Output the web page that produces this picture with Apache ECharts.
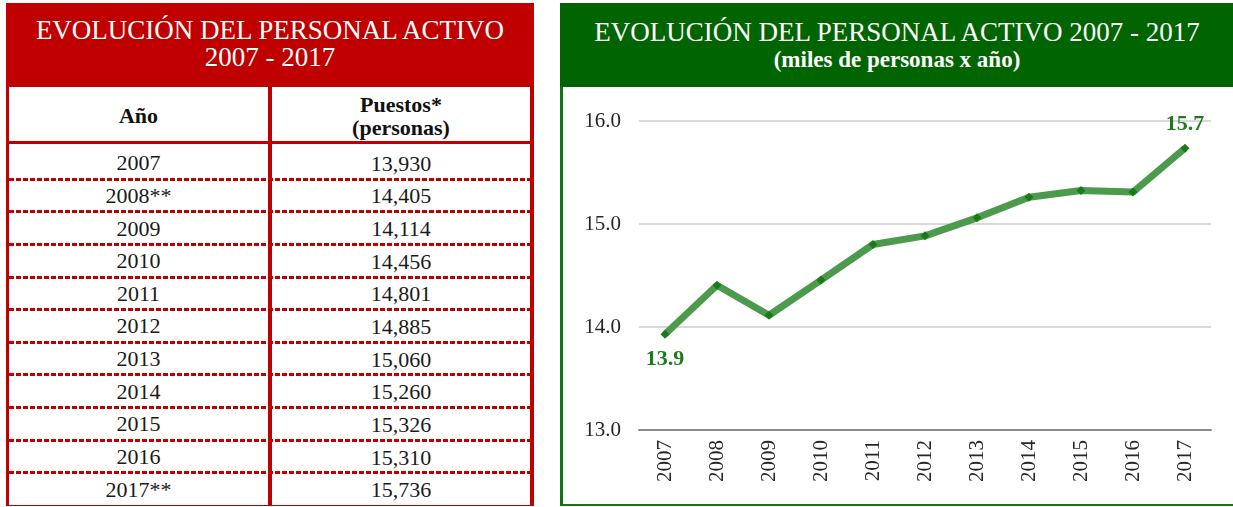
<!DOCTYPE html>
<html>
<head>
<meta charset="utf-8">
<title>Evolución del personal activo 2007 - 2017</title>
<script src="https://cdn.jsdelivr.net/npm/echarts@6/dist/echarts.min.js"></script>
<style>
  body { margin: 0; width: 1233px; height: 507px; background: #fff; overflow: hidden; position: relative; font-family: 'Liberation Serif', serif; }
  .abs { position: absolute; box-sizing: border-box; }
  #red-header { left: 6px; top: 3px; width: 528px; height: 84px; background: #c00000; color: #fff; text-align: center; font-size: 27px; line-height: 27px; padding-top: 14px; }
  #table-box { left: 6px; top: 87px; width: 528px; height: 419px; border-left: 3px solid #c00000; border-right: 4px solid #c00000; border-bottom: 1px solid #c00000; }
  #col-divider { left: 268px; top: 87px; width: 4px; height: 419px; background: #c00000; }
  #head-row { left: 9px; top: 87px; width: 521px; height: 57px; padding-top: 4px; border-bottom: 3px solid #c00000; font-weight: bold; font-size: 22px; color: #111; }
  #head-row .cell { top: 4px; height: 50px; }
  .cell { position: absolute; top: 0; height: 100%; display: flex; align-items: center; justify-content: center; text-align: center; }
  .c1 { left: 0; width: 259px; }
  .c2 { left: 263px; width: 258px; line-height: 23px; }
  .row { position: absolute; left: 9px; width: 521px; font-size: 22px; color: #1a1a1a; }
  .dash { position: absolute; left: 0; right: 0; bottom: -1px; height: 3px;
          background: repeating-linear-gradient(to right, #c00000 0 5px, transparent 5px 7px); }
  #green-header { left: 560px; top: 3px; width: 680px; height: 84px; background: #006400; color: #fff; text-align: center; }
  #green-title { font-size: 27px; line-height: 28px; padding-top: 15px; padding-right: 6px; }
  #green-sub { font-size: 23px; font-weight: bold; line-height: 28px; padding-right: 6px; }
  #green-box { left: 560px; top: 87px; width: 680px; height: 419px; border-left: 3px solid #127512; border-bottom: 2px solid #127512; }
  #chart { left: 563px; top: 87px; width: 670px; height: 417px; }
</style>
</head>
<body>
<div class="abs" id="red-header">EVOLUCIÓN DEL PERSONAL ACTIVO<br>2007 - 2017</div>
<div class="abs" id="table-box"></div>
<div class="abs" id="head-row">
  <div class="cell c1">Año</div>
  <div class="cell c2">Puestos*<br>(personas)</div>
</div>
<div id="rows"></div>
<div class="abs" id="col-divider"></div>

<div class="abs" id="green-header">
  <div id="green-title">EVOLUCIÓN DEL PERSONAL ACTIVO 2007 - 2017</div>
  <div id="green-sub">(miles de personas x año)</div>
</div>
<div class="abs" id="green-box"></div>
<div class="abs" id="chart"></div>

<script>
// Table data (as printed)
const yearLabels = ['2007', '2008**', '2009', '2010', '2011', '2012', '2013', '2014', '2015', '2016', '2017**'];
const puestos = [13930, 14405, 14114, 14456, 14801, 14885, 15060, 15260, 15326, 15310, 15736];

// Chart data
const years = ['2007', '2008', '2009', '2010', '2011', '2012', '2013', '2014', '2015', '2016', '2017'];
const yTicks = [13, 14, 15, 16];

// Build the table rows
const rowsEl = document.getElementById('rows');
const rowTop = 147;
const rowH = (506 - rowTop) / yearLabels.length;
yearLabels.forEach(function(label, i) {
    const row = document.createElement('div');
    row.className = 'row';
    row.style.top = (rowTop + i * rowH) + 'px';
    row.style.height = rowH + 'px';
    row.innerHTML =
        '<div class="cell c1">' + label + '</div>' +
        '<div class="cell c2">' + puestos[i].toLocaleString('en-US') + '</div>' +
        (i < yearLabels.length - 1 ? '<div class="dash"></div>' : '');
    rowsEl.appendChild(row);
});

// Line chart (miles de personas)
const chart = echarts.init(document.getElementById('chart'));
const lastIdx = puestos.length - 1;
const seriesData = puestos.map(function(v, i) {
    const item = { value: v / 1000 };
    if (i === 0) {
        item.label = { show: true, position: 'bottom', distance: 10 };
    } else if (i === lastIdx) {
        item.label = { show: true, position: 'top', distance: 8 };
    }
    return item;
});

chart.setOption({
    animation: false,
    textStyle: { fontFamily: 'Liberation Serif' },
    grid: { left: 76, right: 22, top: 34, bottom: 74 },
    xAxis: {
        type: 'category',
        data: years,
        boundaryGap: true,
        axisLine: { lineStyle: { color: '#8c8c8c', width: 2 } },
        axisTick: { show: false },
        axisLabel: { rotate: 90, fontSize: 21, color: '#262626', margin: 10, fontFamily: 'Liberation Serif' }
    },
    yAxis: {
        type: 'value',
        min: yTicks[0],
        max: yTicks[yTicks.length - 1],
        interval: 1,
        axisLine: { show: false },
        axisTick: { show: false },
        splitLine: { lineStyle: { color: '#d9d9d9', width: 2 } },
        axisLabel: {
            fontSize: 21, color: '#262626', margin: 18, fontFamily: 'Liberation Serif',
            formatter: function(v) { return v.toFixed(1); }
        }
    },
    series: [{
        type: 'line',
        data: seriesData,
        symbol: 'diamond',
        symbolSize: 9,
        itemStyle: { color: '#1a7a1a' },
        lineStyle: { color: '#4c9a4c', width: 7 },
        label: {
            show: false,
            fontSize: 22,
            fontWeight: 'bold',
            color: '#1e7b1e',
            fontFamily: 'Liberation Serif',
            formatter: function(p) { return p.value.toFixed(1); }
        }
    }]
});
</script>
</body>
</html>
